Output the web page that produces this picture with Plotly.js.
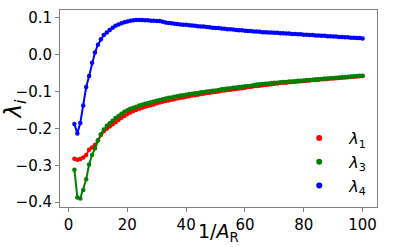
<!DOCTYPE html>
<html>
<head>
<meta charset="utf-8">
<script src="https://cdn.plot.ly/plotly-3.0.1.min.js"></script>
<style>html,body{margin:0;padding:0;background:#fff;}#chart{width:415px;height:247px;}</style>
</head>
<body>
<div id="chart"></div>
<script>
var invAR = [];
for (var k = 2; k <= 100; k++) invAR.push(k);

var lambda1 = [-0.282,-0.285,-0.283,-0.279,-0.272,-0.258,-0.252,-0.245,-0.232,-0.218,
-0.208,-0.201,-0.195,-0.189,-0.183,-0.177,-0.171,-0.166,-0.161,-0.157,
-0.153,-0.150,-0.147,-0.144,-0.141,-0.139,-0.137,-0.135,-0.132,-0.130,
-0.128,-0.126,-0.124,-0.122,-0.121,-0.119,-0.117,-0.116,-0.114,-0.113,
-0.111,-0.110,-0.109,-0.107,-0.106,-0.104,-0.103,-0.102,-0.101,-0.100,
-0.098,-0.097,-0.096,-0.095,-0.094,-0.093,-0.092,-0.091,-0.090,-0.088,
-0.087,-0.086,-0.085,-0.084,-0.083,-0.082,-0.081,-0.080,-0.079,-0.078,
-0.077,-0.0765,-0.076,-0.075,-0.074,-0.0735,-0.073,-0.072,-0.0715,-0.071,
-0.070,-0.069,-0.0685,-0.068,-0.067,-0.0665,-0.066,-0.065,-0.0645,-0.064,
-0.063,-0.0625,-0.062,-0.061,-0.0605,-0.060,-0.059,-0.0585,-0.058];

var lambda3 = [-0.312,-0.387,-0.390,-0.367,-0.338,-0.298,-0.272,-0.254,-0.233,-0.216,
-0.203,-0.193,-0.186,-0.179,-0.172,-0.166,-0.160,-0.155,-0.151,-0.147,
-0.144,-0.141,-0.138,-0.136,-0.133,-0.131,-0.129,-0.127,-0.125,-0.123,
-0.121,-0.119,-0.117,-0.116,-0.114,-0.113,-0.111,-0.110,-0.109,-0.107,
-0.106,-0.105,-0.104,-0.102,-0.101,-0.100,-0.099,-0.098,-0.097,-0.096,
-0.094,-0.093,-0.092,-0.091,-0.090,-0.089,-0.088,-0.087,-0.086,-0.085,
-0.084,-0.082,-0.081,-0.080,-0.0795,-0.079,-0.078,-0.077,-0.0765,-0.076,
-0.075,-0.0745,-0.074,-0.073,-0.0725,-0.072,-0.071,-0.0705,-0.070,-0.069,
-0.0685,-0.068,-0.067,-0.0665,-0.066,-0.065,-0.0645,-0.064,-0.063,-0.0625,
-0.062,-0.061,-0.0605,-0.060,-0.059,-0.0585,-0.058,-0.0575,-0.057];

var lambda4 = [-0.188,-0.214,-0.185,-0.138,-0.088,-0.058,-0.022,0.006,0.027,0.042,
0.053,0.060,0.067,0.073,0.078,0.082,0.085,0.088,0.090,0.092,
0.093,0.094,0.094,0.094,0.093,0.093,0.092,0.092,0.091,0.091,
0.089,0.087,0.086,0.085,0.084,0.083,0.082,0.081,0.081,0.080,
0.079,0.078,0.077,0.076,0.076,0.075,0.074,0.073,0.072,0.072,
0.071,0.070,0.069,0.069,0.068,0.067,0.066,0.066,0.065,0.064,
0.064,0.063,0.063,0.062,0.061,0.061,0.060,0.060,0.059,0.059,
0.058,0.058,0.057,0.057,0.056,0.056,0.055,0.055,0.054,0.054,
0.053,0.053,0.052,0.052,0.051,0.051,0.050,0.050,0.049,0.049,
0.048,0.048,0.047,0.047,0.046,0.046,0.045,0.045,0.044];

var seriesNames = ['<i>λ</i><sub>1</sub>', '<i>λ</i><sub>3</sub>', '<i>λ</i><sub>4</sub>'];
var seriesColors = ['#ff0000', '#008000', '#0000ff'];
var seriesData = [lambda1, lambda3, lambda4];
var xTitle = '1/<i>A</i><sub>R</sub>';
var yTitle = '<i>λ</i><sub><i>i</i></sub>';

var traces = [];
for (var i = 0; i < 3; i++) {
  traces.push({
    x: invAR, y: seriesData[i], type: 'scatter', mode: 'lines+markers',
    line: {color: seriesColors[i], width: 2},
    marker: {color: seriesColors[i], size: 4.5},
    showlegend: false, hoverinfo: 'skip'
  });
}
for (var j = 0; j < 3; j++) {
  traces.push({
    x: [null], y: [null], type: 'scatter', mode: 'markers',
    marker: {color: seriesColors[j], size: 6},
    name: seriesNames[j], showlegend: true
  });
}

var font = {family: 'DejaVu Sans, sans-serif', color: '#000'};
var layout = {
  width: 415, height: 247,
  margin: {l: 60, r: 38, t: 10, b: 40, pad: 0},
  paper_bgcolor: '#fff', plot_bgcolor: '#fff',
  font: {family: font.family, size: 14, color: '#000'},
  showlegend: true,
  legend: {x: 0.985, y: 0.02, xanchor: 'right', yanchor: 'bottom',
    bgcolor: 'rgba(255,255,255,0)', borderwidth: 0,
    font: {family: font.family, size: 16, color: '#000'}, itemwidth: 50},
  annotations: [{
    text: xTitle, xref: 'paper', yref: 'paper', x: 0.5, y: -0.061,
    xanchor: 'center', yanchor: 'top', showarrow: false, borderpad: 0,
    font: {family: font.family, size: 19, color: '#000'}
  }],
  xaxis: {
    range: [-2.9, 104.9], tickvals: [0, 20, 40, 60, 80, 100],
    showgrid: false, zeroline: false, showline: true, mirror: true,
    linecolor: '#808080', linewidth: 1, ticks: 'outside', ticklen: 4,
    tickcolor: '#808080', tickfont: {family: font.family, size: 15, color: '#000'}
  },
  yaxis: {
    range: [-0.413, 0.121], tickvals: [-0.4, -0.3, -0.2, -0.1, 0.0, 0.1],
    ticktext: ['−0.4', '−0.3', '−0.2', '−0.1', '0.0', '0.1'],
    showgrid: false, zeroline: false, showline: true, mirror: true,
    linecolor: '#808080', linewidth: 1, ticks: 'outside', ticklen: 4,
    tickcolor: '#808080', tickfont: {family: font.family, size: 15, color: '#000'},
    title: {text: yTitle, font: {family: font.family, size: 23, color: '#000'}, standoff: 6}
  }
};

Plotly.newPlot('chart', traces, layout, {staticPlot: true, displayModeBar: false});
</script>
</body>
</html>
